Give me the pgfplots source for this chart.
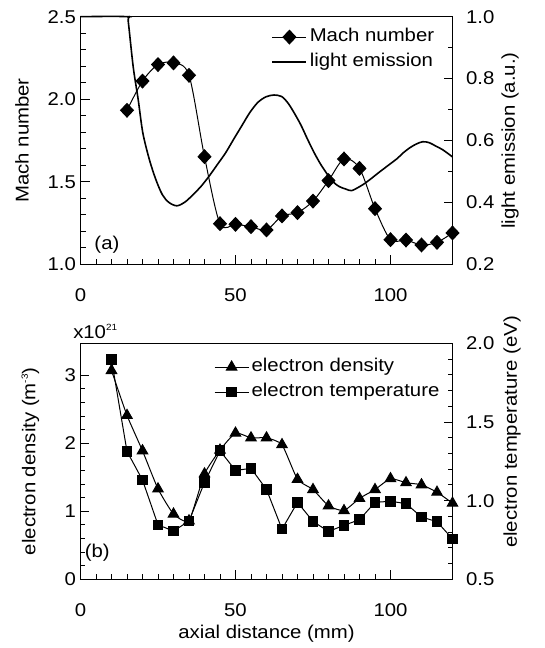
\documentclass[border=0pt]{standalone}
\usepackage{pgfplots}
\pgfplotsset{compat=1.18}
\usepackage{fontspec}
\setmainfont{Liberation Sans}[FakeStretch=1.1]

\newcommand{\supsmall}[1]{\raisebox{7.5pt}{\fontsize{9}{10}\selectfont #1}}

\pgfplotsset{
  every axis/.append style={
    font=\fontsize{18.5}{21}\selectfont,
    /pgf/number format/assume math mode=true,
    scale only axis,
    clip=false,
    width=372pt,
    xmin=0, xmax=120,
    tick align=inside,
    major tick length=9pt,
    minor tick length=5pt,
    tick style={black, line width=0.8pt},
    axis line style={line width=0.9pt},
    xticklabel style={yshift=-21pt},
  },
  leftaxis/.style={
    xtick={0,50,100}, minor x tick num=9,
    xtick pos=left, ytick pos=left,
    yticklabel style={xshift=-1pt},
  },
  rightaxis/.style={
    axis y line*=right, axis x line=none,
    yticklabel style={xshift=10pt},
    ylabel style={at={(axis description cs:1.155,0.5)}, anchor=center, rotate=0},
  },
  onedec/.style={yticklabel style={/pgf/number format/.cd, fixed, fixed zerofill, precision=1}},
  plainleg/.style={
    legend cell align=left,
    legend style={draw=none, fill=none, inner sep=0pt, row sep=2.5pt,
      nodes={inner sep=2.5pt, text height=13.5pt, text depth=4pt}},
    legend image code/.code={%
      \draw[mark repeat=2,mark phase=2] plot coordinates {(0pt,0pt) (17pt,0pt) (34pt,0pt)};},
  },
}

\begin{document}
\begin{tikzpicture}
\useasboundingbox (0pt,0pt) rectangle (544pt,648pt);

% ---------- (a) Mach number and light emission ----------
\begin{axis}[leftaxis, onedec,
  at={(80.5pt,383.7pt)}, anchor=south west, height=247.6pt,
  ymin=1, ymax=2.5, ytick={1,1.5,2,2.5}, minor y tick num=4,
  ylabel={Mach number},
  ylabel style={at={(axis description cs:-0.157,0.5)}, anchor=center},
]
\addplot[black, line width=1pt, smooth, mark=diamond*, mark size=6.8pt,
  mark options={xscale=1.25}] coordinates {
  (15,1.933) (20,2.11) (25,2.21) (30,2.22) (35,2.145) (40,1.652)
  (45,1.246) (50,1.242) (55,1.228) (60,1.208) (65,1.293) (70,1.313)
  (75,1.383) (80,1.507) (85,1.638) (90,1.581) (95,1.337) (100,1.149)
  (105,1.147) (110,1.117) (115,1.133) (120,1.19)
};
\node[anchor=center] at (axis description cs:0.071,0.078) {(a)};
\end{axis}

\begin{axis}[rightaxis, onedec, plainleg,
  at={(80.5pt,383.7pt)}, anchor=south west, height=247.6pt,
  ymin=0.2, ymax=1.0, ytick={0.2,0.4,0.6,0.8,1.0}, minor y tick num=1,
  ylabel={light emission (a.u.)},
  legend style={at={(axis description cs:0.958,0.964)}, anchor=north east},
]
\addlegendimage{black, line width=1pt, mark=diamond*, mark size=6.8pt, mark options={xscale=1.25}}
\addlegendentry{Mach number}
\addplot[black, line width=1.6pt, smooth] coordinates {
  (0,1.0) (15,1.0) (15.4,0.985) (17.0,0.838) (18.6,0.733) (20.1,0.625)
  (22.2,0.539) (24.3,0.474) (26.4,0.425) (28.5,0.400) (31.1,0.389)
  (33.7,0.401) (36.3,0.425) (38.9,0.452) (41.5,0.485) (44.2,0.523)
  (46.8,0.560) (49.4,0.604) (52.0,0.647) (54.6,0.690) (57.2,0.723)
  (59.8,0.741) (62.4,0.747) (64.9,0.742) (67.0,0.720) (69.0,0.688)
  (71.1,0.650) (73.1,0.607) (75.2,0.564) (77.3,0.526) (79.4,0.494)
  (81.4,0.467) (83.5,0.451) (85.6,0.443) (87.4,0.438) (89.7,0.449)
  (91.8,0.462) (93.9,0.478) (95.9,0.494) (98.0,0.510) (100.1,0.526)
  (102.2,0.542) (104.2,0.561) (106.3,0.577) (108.4,0.589) (110.4,0.596)
  (112.5,0.593) (114.6,0.582) (116.7,0.571) (118.8,0.556) (120,0.547)
};
\addlegendentry{light emission}
\end{axis}

% ---------- (b) electron density and temperature ----------
\begin{axis}[leftaxis,
  at={(80.5pt,68.7pt)}, anchor=south west, height=236pt,
  ymin=0, ymax=3.47, ytick={0,1,2,3}, minor y tick num=4,
  ylabel={electron density (m\supsmall{-3})},
  ylabel style={at={(axis description cs:-0.135,0.5)}, anchor=center},
  xlabel={axial distance (mm)},
  xlabel style={at={(axis description cs:0.5,-0.229)}, anchor=center},
]
\addplot[black, line width=1pt, smooth, tension=0.3, mark=triangle*, mark size=6pt] coordinates {
  (10,3.07) (15,2.41) (20,1.89) (25,1.33) (30,0.96) (35,0.86) (40,1.55)
  (45,1.90) (50,2.15) (55,2.08) (60,2.08) (65,1.98) (70,1.47) (75,1.32)
  (80,1.08) (85,1.01) (90,1.19) (95,1.32) (100,1.48) (105,1.42) (110,1.39)
  (115,1.28) (120,1.12)
};
\node[anchor=center] at (axis description cs:0.045,0.111) {(b)};
\node[anchor=base west, inner sep=0pt] at (axis description cs:-0.02,1.021) {x10\supsmall{21}};
\end{axis}

\begin{axis}[rightaxis, onedec, plainleg,
  at={(80.5pt,68.7pt)}, anchor=south west, height=236pt,
  ymin=0.5, ymax=2.0, ytick={0.5,1.0,1.5,2.0}, minor y tick num=4,
  ylabel={electron temperature (eV)},
  ylabel style={at={(axis description cs:1.16,0.624)}},
  legend style={at={(axis description cs:0.972,0.948)}, anchor=north east},
]
\addlegendimage{black, line width=1pt, mark=triangle*, mark size=6pt}
\addlegendentry{electron density}
\addplot[black, line width=1pt, mark=square*, mark size=4.8pt] coordinates {
  (10,1.896) (15,1.313) (20,1.131) (25,0.846) (30,0.807) (35,0.870)
  (40,1.116) (45,1.317) (50,1.192) (55,1.205) (60,1.071) (65,0.819)
  (70,0.989) (75,0.868) (80,0.804) (85,0.843) (90,0.879) (95,0.989)
  (100,0.996) (105,0.981) (110,0.896) (115,0.866) (120,0.757)
};
\addlegendentry{electron temperature}
\end{axis}
\end{tikzpicture}
\end{document}
